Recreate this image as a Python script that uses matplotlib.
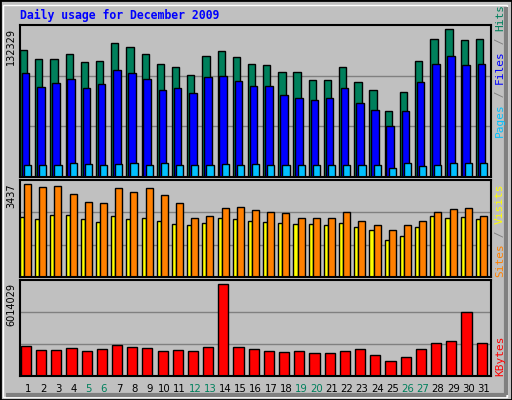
import matplotlib
matplotlib.use("Agg")
import matplotlib.pyplot as plt
from matplotlib.patches import Rectangle
import numpy as np

days = list(range(1, 32))
weekend_days = [5, 6, 12, 13, 19, 20, 26, 27]

# bar heights (in pixel units of each panel)
hits = [127, 118, 118, 123, 115, 116, 134, 130, 123, 113, 110, 102, 121, 126, 120, 113,
        112, 105, 105, 97, 97, 110, 95, 87, 66, 85, 116, 138, 148, 137, 138]
files = [104, 90, 94, 98, 89, 93, 107, 104, 98, 87, 89, 84, 100, 101, 96, 91,
         91, 82, 79, 77, 79, 89, 74, 67, 51, 66, 95, 113, 121, 112, 113]
pages = [12, 12, 12, 14, 13, 12, 13, 14, 12, 14, 12, 12, 12, 13, 12, 13,
         12, 12, 12, 12, 12, 12, 12, 12, 9, 14, 11, 12, 14, 14, 14]
visits = [93, 90, 91, 83, 75, 74, 89, 85, 89, 82, 74, 59, 61, 69, 70, 67,
          65, 64, 59, 59, 59, 65, 56, 52, 47, 52, 56, 65, 68, 69, 61]
sites = [60, 58, 62, 62, 58, 55, 61, 58, 59, 56, 53, 52, 54, 59, 58, 56,
         55, 54, 53, 53, 52, 54, 50, 47, 37, 41, 50, 61, 59, 60, 58]
kbytes = [30, 26, 26, 28, 25, 27, 31, 29, 28, 25, 26, 25, 29, 92, 29, 27,
          25, 24, 25, 23, 23, 25, 27, 21, 15, 19, 27, 33, 35, 64, 33]

W, H = 512, 400
BG = "#c0c0c0"
fig = plt.figure(figsize=(W / 100, H / 100), dpi=100, facecolor=BG)

# outer bevel frame
fig.patches.append(Rectangle((0, 0), 1, 1, transform=fig.transFigure, fill=False,
                             edgecolor="black", linewidth=2))
fig.patches.append(Rectangle((3 / W, 3 / H), (W - 8) / W, (H - 8) / H, transform=fig.transFigure,
                             fill=False, edgecolor="white", linewidth=1))
fig.patches.append(Rectangle((6 / W, 5 / H), (W - 12) / W, 0, transform=fig.transFigure,
                             fill=False, edgecolor="#808080", linewidth=3))
fig.patches.append(Rectangle(((W - 6) / W, 5 / H), 0, (H - 12) / H, transform=fig.transFigure,
                             fill=False, edgecolor="#808080", linewidth=3))

x_left, x_right = 20, 491


def add_panel(top, bottom):
    ax = fig.add_axes([x_left / W, 1 - bottom / H, (x_right - x_left) / W, (bottom - top) / H])
    ax.set_facecolor(BG)
    ax.set_xlim(0.5, 31.5)
    ax.set_ylim(0, bottom - top)
    for y in [(bottom - top) / 3, 2 * (bottom - top) / 3]:
        ax.axhline(y, color="#808080", linewidth=1, zorder=0)
    ax.set_xticks([])
    ax.set_yticks([])
    for s in ax.spines.values():
        s.set_linewidth(1.5)
    return ax


def bars(ax, values, start, stop, color):
    x = np.array(days) - 0.5 + start
    ax.bar(x, values, width=stop - start, align="edge", color=color,
           edgecolor="black", linewidth=1, zorder=2)


ax1 = add_panel(25, 177)
bars(ax1, hits, 0.0, 0.48, "#00805c")
bars(ax1, files, 0.12, 0.62, "#0000ff")
bars(ax1, pages, 0.27, 0.74, "#00c0ff")

ax2 = add_panel(180, 277)
bars(ax2, sites, 0.0, 0.27, "#ffff00")
bars(ax2, visits, 0.27, 0.73, "#ff8000")

ax3 = add_panel(280, 376)
bars(ax3, kbytes, 0.05, 0.72, "#ff0000")

fig.text(20 / W, 1 - 15 / H, "Daily usage for December 2009", color="#0000ff",
         family="DejaVu Sans Mono", weight="bold", fontsize=8.3, va="center")

for label, top in [("132329", 28), ("3437", 183), ("6014029", 283)]:
    fig.text(11 / W, 1 - top / H, label, rotation=90, fontsize=7, va="top", ha="center")

for d in days:
    col = "#00805c" if d in weekend_days else "black"
    fig.text((x_left + (d - 0.5) * (x_right - x_left) / 31 + 0.2) / W, 1 - 389 / H, str(d),
             color=col, fontsize=7.3, ha="center", va="center")


def side_label(parts, bottom):
    y = bottom
    for text, col in parts:
        fig.text(500 / W, 1 - y / H, text, rotation=90, color=col, fontsize=8,
                 family="DejaVu Sans Mono", ha="center", va="bottom")
        y -= len(text) * 6.6


gray = "#808080"
side_label([("Pages", "#00c0ff"), (" / ", gray), ("Files", "#0000ff"), (" / ", gray),
            ("Hits", "#00805c")], 137)
side_label([("Sites", "#ff8000"), (" / ", gray), ("Visits", "#ffff00")], 277)
side_label([("KBytes", "#ff0000")], 376)

fig.savefig("out.png", dpi=100, facecolor=BG)
